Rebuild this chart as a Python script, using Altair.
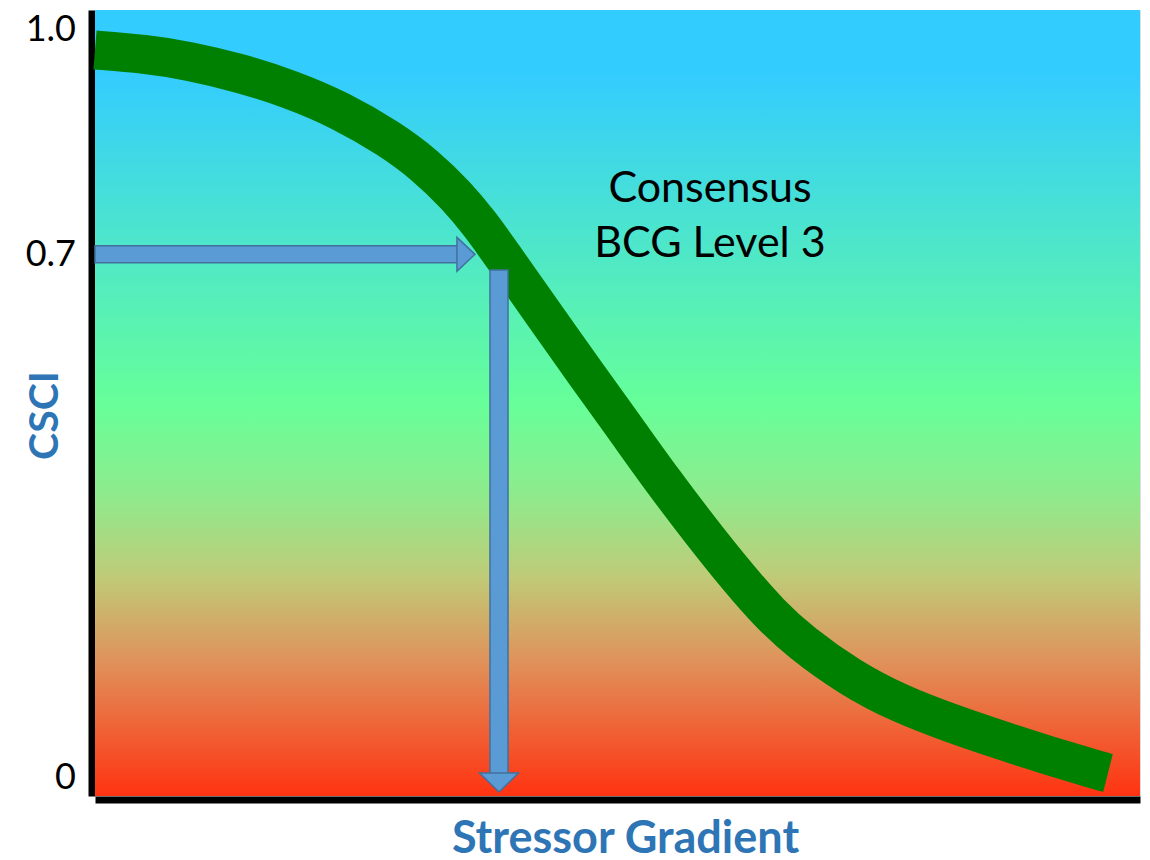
import altair as alt
import pandas as pd

# ---- data ----
curve_x = [0, 4.78, 9.09, 13.88, 18.66, 23.44, 28.23, 31.58, 34.64, 36.84, 38.76, 42.58,
           47.18, 50.72, 54.26, 57.89, 61.72, 64.59, 67.46, 72.25, 77.03, 81.82, 86.60,
           91.39, 96.17, 96.94]
curve_y = [0.9733, 0.9679, 0.9586, 0.9425, 0.9212, 0.8931, 0.8543, 0.8195, 0.7781, 0.7406,
           0.7032, 0.6270, 0.5361, 0.4679, 0.3984, 0.3316, 0.2647, 0.2193, 0.1818, 0.1337,
           0.0989, 0.0735, 0.0508, 0.0294, 0.0094, 0.0067]

y_ticks = [0, 0.7, 1.0]
y_domain = [-0.0241, 1.0267]
x_domain = [0, 100]

# threshold arrows
h_arrow_y = [0.7]
h_arrow_x = [0.0]
h_arrow_shaft_end = [34.9]
h_arrow_tip = [36.36]

v_arrow_x = [38.66]
v_arrow_top = [0.679]
v_arrow_shaft_end = [0.004]
v_arrow_tip = [-0.0187]

label_lines = ["Consensus", "BCG Level 3"]
label_x = [58.85, 58.85]
label_y = [0.788, 0.714]

# ---- frames ----
curve_df = pd.DataFrame({"x": curve_x, "y": curve_y})
bg_df = pd.DataFrame({"x": [x_domain[0]], "x2": [x_domain[1]], "y": [y_domain[0]], "y2": [y_domain[1]]})
h_df = pd.DataFrame({"x": h_arrow_x, "x2": h_arrow_shaft_end, "y": h_arrow_y, "tip": h_arrow_tip})
v_df = pd.DataFrame({"x": v_arrow_x, "y": v_arrow_top, "y2": v_arrow_shaft_end, "tip": v_arrow_tip})
txt_df = pd.DataFrame({"t": label_lines, "x": label_x, "y": label_y})

FONT = "Lato"
AX_BLUE = "#2E75B6"
ARROW_FILL = "#5B9BD5"
ARROW_STROKE = "#41719C"

xs = alt.Scale(domain=x_domain, nice=False, zero=False)
ys = alt.Scale(domain=y_domain, nice=False, zero=False)

x_axis = alt.Axis(
    title="Stressor Gradient", labels=False, ticks=False, grid=False,
    domainColor="black", domainWidth=7, offset=3.5,
    titleFont=FONT, titleFontSize=45, titleFontWeight="bold", titleColor=AX_BLUE,
    titleBaseline="alphabetic", titleY=53, titleX=530,
)
y_axis = alt.Axis(
    title="CSCI", values=y_ticks, ticks=False, grid=False,
    labelExpr="datum.value == 0 ? '0' : format(datum.value, '.1f')",
    labelFont=FONT, labelFontSize=36, labelColor="black", labelPadding=16,
    domainColor="black", domainWidth=7, offset=3.5,
    titleFont=FONT, titleFontSize=41, titleFontWeight="bold", titleColor=AX_BLUE,
    titleAngle=270, titleBaseline="middle", titleAlign="center", titleX=-46.5, titleY=405,
)

bg = alt.Chart(bg_df).mark_rect(
    color=alt.Gradient(
        gradient="linear",
        stops=[
            alt.GradientStop(color="#33CCFF", offset=0.0),
            alt.GradientStop(color="#33CCFF", offset=0.08),
            alt.GradientStop(color="#66FF99", offset=0.5),
            alt.GradientStop(color="#90EA8C", offset=0.62),
            alt.GradientStop(color="#BFCB78", offset=0.72),
            alt.GradientStop(color="#E0915A", offset=0.83),
            alt.GradientStop(color="#FF3311", offset=1.0),
        ],
        x1=0, x2=0, y1=0, y2=1,
    )
).encode(
    x=alt.X("x:Q", scale=xs, axis=x_axis),
    x2="x2:Q",
    y=alt.Y("y:Q", scale=ys, axis=y_axis),
    y2="y2:Q",
)

curve = alt.Chart(curve_df).mark_line(
    color="#008000", strokeWidth=39, strokeCap="butt", interpolate="basis"
).encode(x=alt.X("x:Q", scale=xs), y=alt.Y("y:Q", scale=ys))

h_shaft = alt.Chart(h_df).mark_rect(
    height=17, fill=ARROW_FILL, stroke=ARROW_STROKE, strokeWidth=1.5
).encode(x=alt.X("x:Q", scale=xs), x2="x2:Q", y=alt.Y("y:Q", scale=ys))

h_head = alt.Chart(h_df).mark_point(
    shape="M-1.06,-1 L0,0 L-1.06,1 Z", size=1156, filled=True, opacity=1,
    fill=ARROW_FILL, stroke=ARROW_STROKE, strokeWidth=1.5
).encode(x=alt.X("tip:Q", scale=xs), y=alt.Y("y:Q", scale=ys))

v_shaft = alt.Chart(v_df).mark_rect(
    width=18, fill=ARROW_FILL, stroke=ARROW_STROKE, strokeWidth=1.5
).encode(x=alt.X("x:Q", scale=xs), y=alt.Y("y:Q", scale=ys), y2="y2:Q")

v_head = alt.Chart(v_df).mark_point(
    shape="M-1,-0.97 L0,0 L1,-0.97 Z", size=1521, filled=True, opacity=1,
    fill=ARROW_FILL, stroke=ARROW_STROKE, strokeWidth=1.5
).encode(x=alt.X("x:Q", scale=xs), y=alt.Y("tip:Q", scale=ys))

txt = alt.Chart(txt_df).mark_text(
    font=FONT, fontSize=43, color="black", align="center", baseline="middle"
).encode(x=alt.X("x:Q", scale=xs), y=alt.Y("y:Q", scale=ys), text="t:N")

chart = alt.layer(bg, curve, h_shaft, h_head, v_shaft, v_head, txt).properties(
    width=1045, height=786,
    autosize=alt.AutoSizeParams(type="none"),
    padding={"left": 87, "top": 2, "right": 2, "bottom": 62},
).configure_view(stroke=None).configure(background="white")

chart.save("out.html", embed_options={"renderer": "svg", "actions": False})
